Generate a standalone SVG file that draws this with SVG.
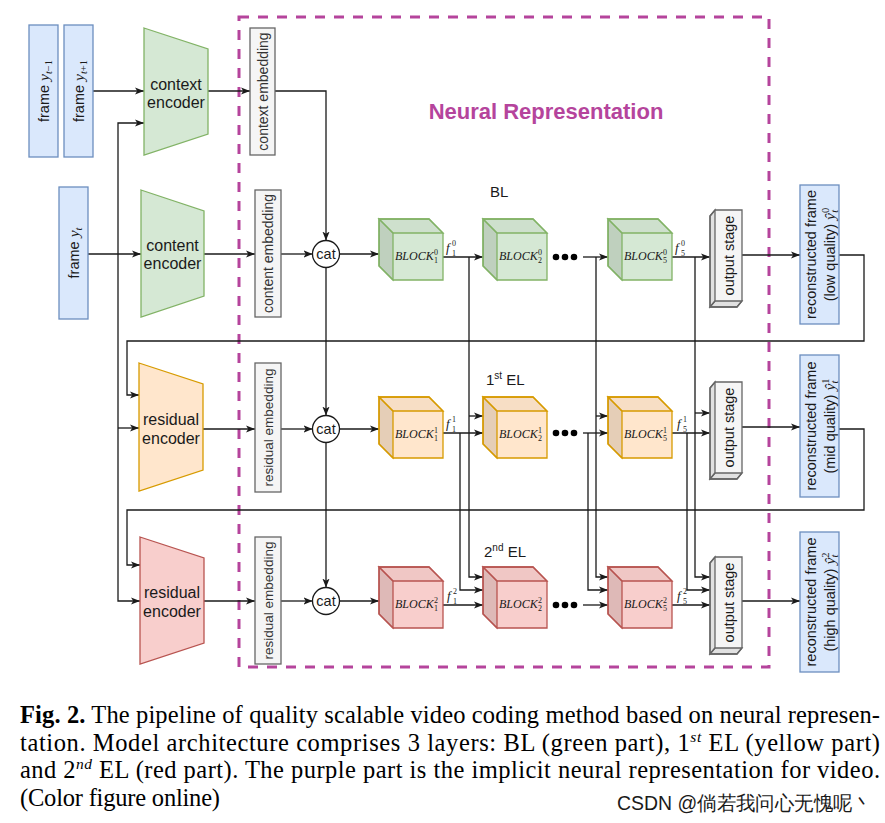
<svg xmlns="http://www.w3.org/2000/svg" width="885" height="823" viewBox="0 0 885 823">
<style>
.ln{fill:none;stroke:#1a1a1a;stroke-width:1.3}
.ar{marker-end:url(#arr)}
.blue{fill:#dae8fc;stroke:#6c8ebf;stroke-width:1.3}
.green{fill:#d5e8d4;stroke:#82b366;stroke-width:1.3}
.orange{fill:#ffe6cc;stroke:#d79b00;stroke-width:1.3}
.red{fill:#f8cecc;stroke:#b85450;stroke-width:1.3}
.gray{fill:#f5f5f5;stroke:#666666;stroke-width:1.3}
.cat{fill:#ffffff;stroke:#1a1a1a;stroke-width:1.3}
.dot{fill:#000}
text{font-family:"Liberation Sans",Arial,sans-serif;fill:#1a1a1a}
.l16{font-size:16px;text-anchor:middle}
.l14{font-size:14.5px;text-anchor:middle}
.emb{font-size:14px;text-anchor:middle;fill:#333}
.embr{font-size:13.5px;text-anchor:middle;fill:#333}
.mi{font-family:"Liberation Serif",serif;font-style:italic;font-size:15.5px}
.blk{font-family:"Liberation Serif",serif;font-style:italic;font-size:12px}
.sc{font-family:"Liberation Serif",serif;font-style:normal;font-size:8px}
.sci{font-family:"Liberation Serif",serif;font-style:italic;font-size:10.5px}
.scn{font-family:"Liberation Serif",serif;font-style:normal;font-size:10.5px}
.fl{font-family:"Liberation Serif",serif;font-style:italic;font-size:13px}
.cap{font-family:"Liberation Serif",serif;font-size:24.5px;fill:#000}
.capsup{font-style:italic;font-size:15.5px}
.lay{font-size:15px}
.title{font-size:22px;font-weight:bold;fill:#b5449c;text-anchor:middle}
</style>
<defs>
<marker id="arr" viewBox="0 0 10 10" refX="10" refY="5" markerWidth="9" markerHeight="9" markerUnits="userSpaceOnUse" orient="auto">
<path d="M0,1 L10,5 L0,9 L2.5,5 Z" fill="#1a1a1a"/>
</marker>
<g id="cube">
<path d="M0,0 H50 L64,14 V61 H14 L0,47 Z"/>
<path d="M0,0 L14,14 V61 L0,47 Z" fill="#000" fill-opacity="0.1"/>
<path d="M0,0 H50 L64,14 H14 Z" fill="#000" fill-opacity="0.03"/>
</g>
<g id="ostage">
<path d="M5,0 H32 V91 L27,97 H0 V6 Z"/>
<path d="M0,6 L5,0 V91 L0,97 Z" fill="#000" fill-opacity="0.08"/>
<path d="M5,91 H32 L27,97 H0 Z" fill="#000" fill-opacity="0.08"/>
</g>
</defs>

<rect width="885" height="823" fill="#ffffff"/>

<g id="neural-representation">
<rect x="239" y="17" width="530" height="650" fill="none" stroke="#b5449c" stroke-width="3" stroke-dasharray="10 9"/>
<text class="title" x="546" y="119">Neural Representation</text>
</g>

<g id="connectors" class="ln">
<path class="ar" d="M93,91 H144"/>
<path class="ar" d="M88,254 H141"/>
<path class="ar" d="M118,254 V123 H144"/>
<path class="ar" d="M118,254 V601 H140"/>
<path class="ar" d="M118,428 H139"/>
<path class="ar" d="M208,91 H250"/>
<path class="ar" d="M204,254 H255"/>
<path class="ar" d="M203,429 H255"/>
<path class="ar" d="M204,601 H255"/>
<path class="ar" d="M275,91 H326 V240.5"/>
<path class="ar" d="M281,254 H312.5"/>
<path class="ar" d="M281,429 H312.5"/>
<path class="ar" d="M281,601 H312.5"/>
<path class="ar" d="M326,267.5 V415.5"/>
<path class="ar" d="M326,442.5 V587.5"/>
<path class="ar" d="M339.5,254 H379"/>
<path class="ar" d="M339.5,429 H379"/>
<path class="ar" d="M339.5,601 H379"/>
<path class="ar" d="M443,257 H483"/>
<path class="ar" d="M469,257 V577 H483"/>
<path class="ar" d="M469,416 H483"/>
<path class="ar" d="M443,433 H483"/>
<path class="ar" d="M460,433 V590 H483"/>
<path class="ar" d="M443,605 H483"/>
<path class="ar" d="M583,257 H608"/>
<path class="ar" d="M583,433 H608"/>
<path class="ar" d="M583,605 H608"/>
<path class="ar" d="M596,257 V577 H608"/>
<path class="ar" d="M596,416 H608"/>
<path class="ar" d="M588,433 V590 H608"/>
<path class="ar" d="M672,257 H710"/>
<path class="ar" d="M672,433 H710"/>
<path class="ar" d="M672,605 H710"/>
<path class="ar" d="M695,257 V577 H710"/>
<path class="ar" d="M695,413 H710"/>
<path class="ar" d="M687,433 V590 H710"/>
<path class="ar" d="M742,255 H800"/>
<path class="ar" d="M742,427 H800"/>
<path class="ar" d="M742,601 H800"/>
<path class="ar" d="M839,255 H864 V341 H127 V395 H139"/>
<path class="ar" d="M839,429 H864 V510 H127 V565 H140"/>
</g>

<g id="frame-prev">
<rect class="blue" x="29" y="25" width="29" height="132"/>
<text class="l14" transform="translate(48.5,91) rotate(-90)">frame <tspan class="mi">y</tspan><tspan class="sci" dy="3">t</tspan><tspan class="scn">−1</tspan></text>
</g>
<g id="frame-next">
<rect class="blue" x="64" y="25" width="29" height="132"/>
<text class="l14" transform="translate(83.5,91) rotate(-90)">frame <tspan class="mi">y</tspan><tspan class="sci" dy="3">t</tspan><tspan class="scn">+1</tspan></text>
</g>
<g id="frame-t">
<rect class="blue" x="59" y="187" width="29" height="132"/>
<text class="l14" transform="translate(78.5,253) rotate(-90)">frame <tspan class="mi">y</tspan><tspan class="sci" dy="3">t</tspan></text>
</g>

<g id="context-encoder">
<polygon class="green" points="144,28 208,49 208,134 144,155"/>
<text class="l16" x="176" y="90">context</text>
<text class="l16" x="176" y="108">encoder</text>
</g>
<g id="content-encoder">
<polygon class="green" points="141,190 204,211 204,296 141,317"/>
<text class="l16" x="172.5" y="251">content</text>
<text class="l16" x="172.5" y="269">encoder</text>
</g>
<g id="residual-encoder-1">
<polygon class="orange" points="139,363 203,384 203,470 139,491"/>
<text class="l16" x="171" y="425">residual</text>
<text class="l16" x="171" y="444">encoder</text>
</g>
<g id="residual-encoder-2">
<polygon class="red" points="140,537 204,558 204,643 140,664"/>
<text class="l16" x="172" y="598">residual</text>
<text class="l16" x="172" y="617">encoder</text>
</g>

<g id="context-embedding">
<rect class="gray" x="250" y="28" width="25" height="127"/>
<text class="emb" transform="translate(267.5,91.5) rotate(-90)">context embedding</text>
</g>
<g id="content-embedding">
<rect class="gray" x="255" y="190" width="26" height="127"/>
<text class="emb" transform="translate(273,253.5) rotate(-90)">content embedding</text>
</g>
<g id="residual-embedding-1">
<rect class="gray" x="255" y="363" width="26" height="129"/>
<text class="embr" transform="translate(273,427.5) rotate(-90)">residual embedding</text>
</g>
<g id="residual-embedding-2">
<rect class="gray" x="255" y="537" width="26" height="127"/>
<text class="embr" transform="translate(273,600.5) rotate(-90)">residual embedding</text>
</g>

<g id="cat-1"><circle class="cat" cx="326" cy="254" r="13.5"/><text class="l14" x="326" y="259">cat</text></g>
<g id="cat-2"><circle class="cat" cx="326" cy="429" r="13.5"/><text class="l14" x="326" y="434">cat</text></g>
<g id="cat-3"><circle class="cat" cx="326" cy="601" r="13.5"/><text class="l14" x="326" y="606">cat</text></g>

<g id="labels">
<text class="lay" x="490" y="197">BL</text>
<text class="lay" x="486" y="385">1<tspan font-size="10" dy="-6">st</tspan><tspan dy="6"> EL</tspan></text>
<text class="lay" x="484" y="557">2<tspan font-size="10" dy="-6">nd</tspan><tspan dy="6"> EL</tspan></text>
</g>

<g id="block-1-0"><use href="#cube" x="379" y="219" class="green"/>
<text class="blk"><tspan x="395" y="260">BLOCK</tspan><tspan class="sc" x="434" y="255">0</tspan><tspan class="sc" x="434" y="263">1</tspan></text></g>
<g id="block-2-0"><use href="#cube" x="483" y="219" class="green"/>
<text class="blk"><tspan x="499" y="260">BLOCK</tspan><tspan class="sc" x="538" y="255">0</tspan><tspan class="sc" x="538" y="263">2</tspan></text></g>
<g id="block-5-0"><use href="#cube" x="608" y="219" class="green"/>
<text class="blk"><tspan x="624" y="260">BLOCK</tspan><tspan class="sc" x="663" y="255">0</tspan><tspan class="sc" x="663" y="263">5</tspan></text></g>

<g id="block-1-1"><use href="#cube" x="379" y="397" class="orange"/>
<text class="blk"><tspan x="395" y="438">BLOCK</tspan><tspan class="sc" x="434" y="433">1</tspan><tspan class="sc" x="434" y="441">1</tspan></text></g>
<g id="block-2-1"><use href="#cube" x="483" y="397" class="orange"/>
<text class="blk"><tspan x="499" y="438">BLOCK</tspan><tspan class="sc" x="538" y="433">1</tspan><tspan class="sc" x="538" y="441">2</tspan></text></g>
<g id="block-5-1"><use href="#cube" x="608" y="397" class="orange"/>
<text class="blk"><tspan x="624" y="438">BLOCK</tspan><tspan class="sc" x="663" y="433">1</tspan><tspan class="sc" x="663" y="441">5</tspan></text></g>

<g id="block-1-2"><use href="#cube" x="379" y="567" class="red"/>
<text class="blk"><tspan x="395" y="608">BLOCK</tspan><tspan class="sc" x="434" y="603">2</tspan><tspan class="sc" x="434" y="611">1</tspan></text></g>
<g id="block-2-2"><use href="#cube" x="483" y="567" class="red"/>
<text class="blk"><tspan x="499" y="608">BLOCK</tspan><tspan class="sc" x="538" y="603">2</tspan><tspan class="sc" x="538" y="611">2</tspan></text></g>
<g id="block-5-2"><use href="#cube" x="608" y="567" class="red"/>
<text class="blk"><tspan x="624" y="608">BLOCK</tspan><tspan class="sc" x="663" y="603">2</tspan><tspan class="sc" x="663" y="611">5</tspan></text></g>

<g id="dots">
<circle class="dot" cx="556" cy="257" r="3.3"/><circle class="dot" cx="565" cy="257" r="3.3"/><circle class="dot" cx="574" cy="257" r="3.3"/>
<circle class="dot" cx="556" cy="433" r="3.3"/><circle class="dot" cx="565" cy="433" r="3.3"/><circle class="dot" cx="574" cy="433" r="3.3"/>
<circle class="dot" cx="556" cy="605" r="3.3"/><circle class="dot" cx="565" cy="605" r="3.3"/><circle class="dot" cx="574" cy="605" r="3.3"/>
</g>

<g id="feature-labels">
<text class="fl"><tspan x="446" y="252">f</tspan><tspan class="sc" x="452" y="246">0</tspan><tspan class="sc" x="452" y="256">1</tspan></text>
<text class="fl"><tspan x="675" y="252">f</tspan><tspan class="sc" x="681" y="246">0</tspan><tspan class="sc" x="681" y="256">5</tspan></text>
<text class="fl"><tspan x="446" y="428">f</tspan><tspan class="sc" x="452" y="422">1</tspan><tspan class="sc" x="452" y="432">1</tspan></text>
<text class="fl"><tspan x="677" y="428">f</tspan><tspan class="sc" x="683" y="422">1</tspan><tspan class="sc" x="683" y="432">5</tspan></text>
<text class="fl"><tspan x="447" y="600">f</tspan><tspan class="sc" x="453" y="594">2</tspan><tspan class="sc" x="453" y="604">1</tspan></text>
<text class="fl"><tspan x="677" y="600">f</tspan><tspan class="sc" x="683" y="594">2</tspan><tspan class="sc" x="683" y="604">5</tspan></text>
</g>

<g id="output-stage-0"><use href="#ostage" x="710" y="210" class="gray"/>
<text class="l14" transform="translate(733.5,255.5) rotate(-90)">output stage</text></g>
<g id="output-stage-1"><use href="#ostage" x="710" y="382" class="gray"/>
<text class="l14" transform="translate(733.5,427.5) rotate(-90)">output stage</text></g>
<g id="output-stage-2"><use href="#ostage" x="710" y="557" class="gray"/>
<text class="l14" transform="translate(733.5,602.5) rotate(-90)">output stage</text></g>

<g id="recon-low">
<rect class="blue" x="800" y="185" width="39" height="139"/>
<text class="l14" transform="translate(816,254.5) rotate(-90)">reconstructed frame</text>
<text class="l14" transform="translate(834.5,254.5) rotate(-90)">(low quality) <tspan class="mi">ŷ</tspan><tspan class="scn" dy="-6">0</tspan><tspan class="sci" dx="-5" dy="9">t</tspan></text>
</g>
<g id="recon-mid">
<rect class="blue" x="800" y="355" width="39" height="142"/>
<text class="l14" transform="translate(816,426) rotate(-90)">reconstructed frame</text>
<text class="l14" transform="translate(834.5,426) rotate(-90)">(mid quality) <tspan class="mi">ŷ</tspan><tspan class="scn" dy="-6">1</tspan><tspan class="sci" dx="-5" dy="9">t</tspan></text>
</g>
<g id="recon-high">
<rect class="blue" x="800" y="532" width="39" height="140"/>
<text class="l14" transform="translate(816,602) rotate(-90)">reconstructed frame</text>
<text class="l14" transform="translate(834.5,602) rotate(-90)">(high quality) <tspan class="mi">ŷ</tspan><tspan class="scn" dy="-6">2</tspan><tspan class="sci" dx="-5" dy="9">t</tspan></text>
</g>

<g id="caption">
<text class="cap" x="20" y="723" textLength="860" lengthAdjust="spacing"><tspan font-weight="bold">Fig. 2.</tspan> The pipeline of quality scalable video coding method based on neural represen-</text>
<text class="cap" x="20" y="751" textLength="860" lengthAdjust="spacing">tation. Model architecture comprises 3 layers: BL (green part), 1<tspan class="capsup" dy="-9">st</tspan><tspan dy="9"> EL (yellow part)</tspan></text>
<text class="cap" x="20" y="778" textLength="860" lengthAdjust="spacing">and 2<tspan class="capsup" dy="-9">nd</tspan><tspan dy="9"> EL (red part). The purple part is the implicit neural representation for video.</tspan></text>
<text class="cap" x="20" y="806" textLength="200" lengthAdjust="spacing">(Color figure online)</text>
<text x="617" y="810" font-family="'Noto Sans CJK SC','Liberation Sans',sans-serif" font-size="20" fill="#a3a3a3" textLength="255" lengthAdjust="spacingAndGlyphs">CSDN @倘若我问心无愧呢丶</text>
</g>
</svg>
